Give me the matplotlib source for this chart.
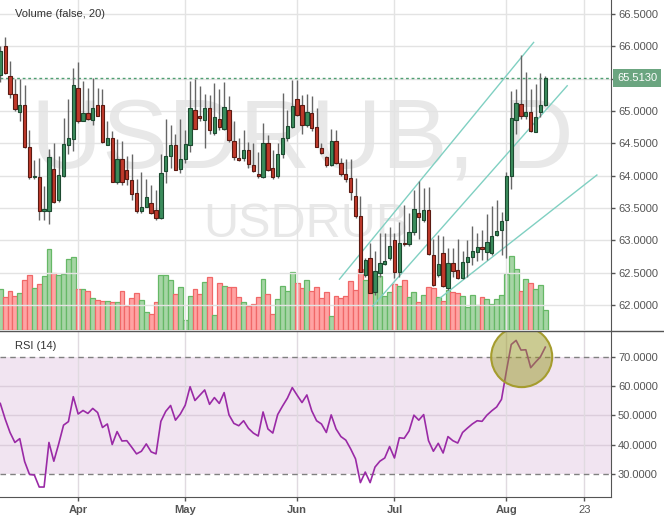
import numpy as np
import pandas as pd
import matplotlib
matplotlib.use('Agg')
import matplotlib.pyplot as plt
import matplotlib.transforms as mtransforms
from matplotlib.patches import Ellipse
from matplotlib.lines import Line2D

plt.rcParams['font.family'] = ['Liberation Sans', 'DejaVu Sans']

# USDRUB daily bars, first bar on 8 Mar 2019 (business days)
first_day = '2019-03-08'

opens = [65.55, 66.00, 65.54, 65.26, 64.99, 65.09, 64.45, 63.98, 63.98, 63.46,
         63.46, 64.10, 63.63, 64.00, 64.48, 64.57, 65.36, 64.85, 64.97, 64.86,
         65.09, 65.09, 64.48, 64.59, 63.90, 64.26, 64.09, 63.93, 63.73, 63.45,
         63.52, 63.58, 63.47, 63.34, 64.07, 64.30, 64.48, 64.10, 64.26, 64.47,
         65.02, 64.92, 64.86, 65.04, 64.66, 64.87, 64.72, 65.02, 64.54, 64.27,
         64.27, 64.40, 64.17, 64.03, 63.98, 64.50, 64.12, 63.99, 64.34, 64.58,
         64.76, 65.18, 65.09, 64.78, 64.97, 64.76, 64.43, 64.29, 64.17, 64.54,
         64.20, 64.02, 63.97, 63.69, 63.37, 62.46, 62.73, 62.20, 62.50, 62.63,
         62.73, 63.00, 62.51, 62.96, 62.94, 63.13, 63.42, 63.31, 63.47, 62.77,
         62.46, 62.80, 62.26, 62.65, 62.54, 62.42, 62.66, 62.74, 62.82, 62.90,
         62.82, 62.80, 63.08, 63.16, 63.32, 64.00, 64.86, 65.11, 64.93, 64.98,
         64.68, 64.98, 65.09]
highs = [66.00, 66.14, 65.77, 65.50, 65.50, 65.40, 64.70, 64.25, 64.28, 63.84,
         64.42, 64.50, 64.30, 64.89, 65.18, 65.66, 65.75, 65.46, 65.36, 65.51,
         65.36, 65.34, 64.84, 64.69, 64.56, 64.53, 64.30, 64.33, 63.95, 64.05,
         63.95, 63.85, 63.78, 64.34, 64.87, 64.79, 64.65, 64.88, 64.71, 65.46,
         65.50, 65.39, 65.27, 65.25, 65.43, 65.34, 65.45, 65.23, 64.85, 64.59,
         64.70, 64.52, 64.50, 64.37, 64.81, 64.63, 64.39, 64.50, 65.28, 65.02,
         65.48, 65.48, 65.25, 65.27, 65.23, 65.05, 64.50, 64.30, 64.72, 64.70,
         64.27, 64.26, 64.26, 63.96, 63.68, 62.72, 62.96, 62.84, 63.11, 63.11,
         63.21, 63.11, 63.28, 63.55, 63.42, 63.78, 63.92, 63.81, 63.82, 63.02,
         63.09, 63.06, 62.88, 62.88, 63.02, 62.83, 63.01, 63.22, 63.11, 63.16,
         63.40, 63.53, 63.62, 63.44, 64.05, 65.31, 65.34, 65.87, 65.60, 65.34,
         65.42, 65.58, 65.54]
lows = [65.45, 65.57, 65.20, 65.00, 64.84, 64.43, 63.95, 63.95, 63.31, 63.31,
        63.26, 63.57, 63.60, 63.98, 64.33, 64.38, 64.81, 64.84, 64.86, 64.78,
        64.92, 64.50, 64.48, 63.90, 63.87, 63.85, 63.86, 63.63, 63.42, 63.42,
        63.51, 63.40, 63.31, 63.33, 63.88, 64.12, 64.08, 64.04, 64.19, 64.36,
        64.72, 64.84, 64.43, 64.65, 64.63, 64.70, 64.70, 64.52, 64.25, 64.22,
        64.22, 64.12, 64.05, 63.97, 63.96, 64.07, 63.95, 63.96, 64.28, 64.53,
        64.74, 64.92, 64.65, 64.76, 64.69, 64.45, 64.33, 64.14, 64.15, 64.18,
        64.00, 63.90, 63.62, 63.35, 62.51, 62.44, 62.18, 62.16, 62.44, 62.62,
        62.70, 62.42, 62.44, 62.92, 62.92, 63.08, 63.02, 63.28, 62.77, 62.30,
        62.43, 62.28, 62.24, 62.44, 62.40, 62.40, 62.43, 62.62, 62.68, 62.70,
        62.69, 62.78, 63.06, 62.78, 62.73, 63.79, 64.65, 64.87, 64.87, 64.68,
        64.67, 64.90, 65.07]
closes = [65.93, 65.59, 65.26, 65.03, 65.09, 64.45, 63.98, 64.00, 63.46, 63.47,
          64.29, 63.60, 64.01, 64.49, 64.59, 65.40, 64.85, 64.97, 64.87, 65.05,
          64.93, 64.52, 64.59, 63.90, 64.26, 63.90, 63.95, 63.71, 63.45, 63.52,
          63.67, 63.42, 63.34, 64.04, 64.31, 64.48, 64.09, 64.26, 64.49, 65.05,
          64.72, 64.89, 65.04, 64.70, 64.90, 64.76, 65.06, 64.55, 64.29, 64.25,
          64.39, 64.18, 64.07, 63.99, 64.50, 64.09, 63.98, 64.34, 64.59, 64.77,
          65.08, 64.94, 64.78, 64.98, 64.74, 64.45, 64.35, 64.17, 64.54, 64.20,
          64.03, 63.95, 63.74, 63.38, 62.51, 62.70, 62.19, 62.52, 62.65, 62.68,
          62.92, 62.51, 62.96, 62.94, 63.13, 63.48, 63.36, 63.47, 62.79, 62.31,
          62.63, 62.29, 62.65, 62.52, 62.42, 62.67, 62.74, 62.83, 62.90, 62.87,
          62.98, 63.06, 63.15, 63.30, 64.00, 64.89, 65.12, 64.93, 64.99, 64.69,
          64.91, 65.09, 65.513]
volume = [122, 98, 116, 102, 110, 150, 164, 125, 137, 161,
          242, 170, 165, 167, 212, 218, 122, 122, 118, 97,
          90, 87, 87, 83, 83, 117, 72, 96, 110, 89,
          53, 48, 83, 164, 164, 149, 107, 128, 29, 102,
          122, 107, 143, 158, 44, 140, 132, 129, 129, 98,
          83, 72, 78, 98, 152, 107, 48, 92, 132, 116,
          175, 140, 125, 149, 116, 128, 95, 113, 42, 101,
          95, 102, 147, 120, 182, 149, 142, 149, 162, 102,
          113, 138, 132, 149, 99, 113, 84, 105, 128, 125,
          99, 87, 119, 113, 110, 102, 69, 104, 74, 98,
          92, 77, 92, 104, 167, 222, 183, 117, 152, 140,
          123, 134, 59]
rsi = [54.1, 48.8, 44.2, 40.8, 42.1, 34.3, 29.9, 29.7, 25.6, 25.6,
       40.8, 34.4, 40.3, 46.7, 47.9, 56.4, 50.5, 51.7, 50.7, 52.4,
       51.0, 45.9, 47.1, 40.1, 44.5, 41.3, 41.4, 39.2, 36.9, 37.8,
       40.3, 37.6, 36.9, 48.0, 51.4, 53.4, 48.4, 50.5, 53.5, 59.8,
       55.1, 56.9, 58.7, 53.8, 56.1, 54.1, 57.8, 50.2, 47.3, 46.5,
       48.2, 45.6, 44.0, 43.0, 51.2, 45.4, 44.0, 50.3, 53.2, 55.9,
       59.5, 56.9, 54.4, 57.0, 51.6, 48.2, 47.1, 44.2, 50.2, 45.4,
       42.8, 41.6, 38.6, 35.2, 27.1, 30.7, 27.1, 32.4, 34.4, 35.5,
       39.4, 35.5, 42.4, 42.2, 44.7, 50.1, 48.4, 50.3, 41.4, 37.8,
       40.5, 37.2, 42.8, 41.4, 40.6, 44.2, 45.7, 47.1, 48.2, 48.0,
       50.1, 51.6, 52.9, 55.5, 65.1, 74.2, 75.6, 72.3, 72.4, 66.3,
       68.2, 70.0, 73.3]

last_price = 65.513
price_ticks = [62.0, 62.5, 63.0, 63.5, 64.0, 64.5, 65.0, 65.5, 66.0, 66.5]
rsi_ticks = [30, 40, 50, 60, 70]
tick_dates = ['2019-04-01', '2019-05-01', '2019-06-03', '2019-07-01',
              '2019-08-01', '2019-08-23']
tick_labels = ['Apr', 'May', 'Jun', 'Jul', 'Aug', '23']

# fan drawn on the chart: (bar index, price) -> (bar index, price)
fan_lines = [((69.7, 62.40), (109.6, 66.06)),
             ((76.5, 61.98), (116.5, 65.39)),
             ((90.4, 62.11), (122.6, 64.01))]
# highlight circle over the RSI peak (bar index, rsi)
circle_center = (107.15, 70.0)

W, H = 664, 519
x = np.arange(len(closes))
days = pd.bdate_range(first_day, periods=140)
tick_pos = [days.get_loc(pd.Timestamp(d)) for d in tick_dates]

opens = np.array(opens)
closes = np.array(closes)
up = closes >= opens

fig = plt.figure(figsize=(W / 100, H / 100), dpi=100)
main_rect = [0, 1 - 330 / H, 611 / W, 330 / H]
ax_vol = fig.add_axes(main_rect)
ax = fig.add_axes(main_rect, sharex=ax_vol)
ax_rsi = fig.add_axes([0, 1 - 497 / H, 611 / W, 166 / H], sharex=ax_vol)

ax.set_zorder(ax_vol.get_zorder() + 1)
ax.patch.set_visible(False)

# volume bars behind price
vol_fill = np.where(up, '#a6d5a5', '#ffa3a3')
vol_edge = np.where(up, '#66b866', '#f06868')
ax_vol.bar(x, volume, width=1.0, color=vol_fill, edgecolor=vol_edge, linewidth=0.9)
ax_vol.set_ylim(0, 990)
ax_vol.axis('off')

# price pane
ax.set_xlim(-0.06, 125.5)
ax.set_ylim(61.614, 66.716)
for p in price_ticks:
    ax.axhline(p, color='#e3e3e3', lw=1, zorder=0.5)
for t in tick_pos:
    ax.axvline(t, color='#e3e3e3', lw=1, zorder=0.5)

ax.text(302 / 611, 1 - 168 / 330, 'USDRUB, D', transform=ax.transAxes,
        ha='center', va='baseline', fontsize=71, color='#e8e8e8', zorder=0.2)
ax.text(306 / 611, 1 - 237 / 330, 'USDRUB', transform=ax.transAxes,
        ha='center', va='baseline', fontsize=35, color='#e8e8e8', zorder=0.2)

for (x0, y0), (x1, y1) in fan_lines:
    ax.plot([x0, x1], [y0, y1], color='#80d0c2', lw=1, zorder=1)

ax.axhline(last_price, color='#4f9f72', lw=1, ls=(0, (2, 2)), zorder=1.5)

ax.vlines(x, lows, highs, color='#666666', lw=1, zorder=2)
body_fill = np.where(up, '#3b8c5c', '#c0392b')
body_edge = np.where(up, '#1c4a30', '#5a1a12')
heights = np.maximum(np.abs(closes - opens), 0.02)
ax.bar(x, heights, bottom=np.minimum(opens, closes), width=0.68,
       color=body_fill, edgecolor=body_edge, linewidth=0.8, zorder=3)

ax.yaxis.tick_right()
ax.set_yticks(price_ticks)
# the 65.5 label is hidden behind the last-price tag
ax.set_yticklabels(['' if p == 65.5 else f'{p:.4f}' for p in price_ticks])
ax.tick_params(axis='y', length=3, width=1, color='#555555', pad=2,
               labelsize=8, labelcolor='#555555')
ax.tick_params(axis='x', length=0, labelbottom=False)
for s in ['top', 'left', 'bottom']:
    ax.spines[s].set_visible(False)
ax.spines['right'].set_color('#555555')

blend = mtransforms.blended_transform_factory(ax.transAxes, ax.transData)
ax.text(1 + 6 / 611, last_price, f'{last_price:.4f}', transform=blend,
        ha='left', va='center', fontsize=8, color='white', clip_on=False,
        zorder=5,
        bbox=dict(boxstyle='square,pad=0.38', fc='#6ba580', ec='none'))
ax.text(15 / 611, 1 - 14 / 330, 'Volume (false, 20)', transform=ax.transAxes,
        ha='left', va='center', fontsize=8, color='#333333')

# RSI pane
ax_rsi.set_ylim(22.2, 78.8)
ax_rsi.axhspan(30, 70, color='#f1e4f1', lw=0, zorder=0.2)
for r in [40, 50, 60]:
    ax_rsi.axhline(r, color='#dccddc', lw=1, zorder=0.5)
for t in tick_pos:
    ax_rsi.axvline(t, color='#e0dae0', lw=1, zorder=0.5)
for r in [30, 70]:
    ax_rsi.axhline(r, color='#808080', lw=1, ls=(0, (4, 3)), zorder=1)
ax_rsi.plot(x, rsi, color='#9a2aa6', lw=1.2, zorder=2)
ax_rsi.add_patch(Ellipse(circle_center, 61 / 4.865, 61 / 2.95,
                         fc=(0.6, 0.6, 0.15, 0.5), ec='#a59c2e', lw=1.5, zorder=3))

ax_rsi.yaxis.tick_right()
ax_rsi.set_yticks(rsi_ticks)
ax_rsi.set_yticklabels([f'{r:.4f}' for r in rsi_ticks])
ax_rsi.set_xticks(tick_pos)
ax_rsi.set_xticklabels(tick_labels)
for lab in ax_rsi.get_xticklabels():
    if lab.get_text() != '23':
        lab.set_fontweight('bold')
ax_rsi.tick_params(axis='y', length=3, width=1, color='#555555', pad=2,
                   labelsize=8, labelcolor='#555555')
ax_rsi.tick_params(axis='x', length=3, width=1, color='#555555', pad=2.5,
                   labelsize=8, labelcolor='#555555')
for s in ['top', 'left']:
    ax_rsi.spines[s].set_visible(False)
ax_rsi.spines['right'].set_color('#555555')
ax_rsi.spines['bottom'].set_color('#555555')
ax_rsi.text(15 / 611, (497 - 346) / 166, 'RSI (14)', transform=ax_rsi.transAxes,
            ha='left', va='center', fontsize=8, color='#333333')

fig.add_artist(Line2D([0, 1], [1 - 330.5 / H] * 2, color='#555555', lw=1))

fig.savefig('out.png', dpi=100)
